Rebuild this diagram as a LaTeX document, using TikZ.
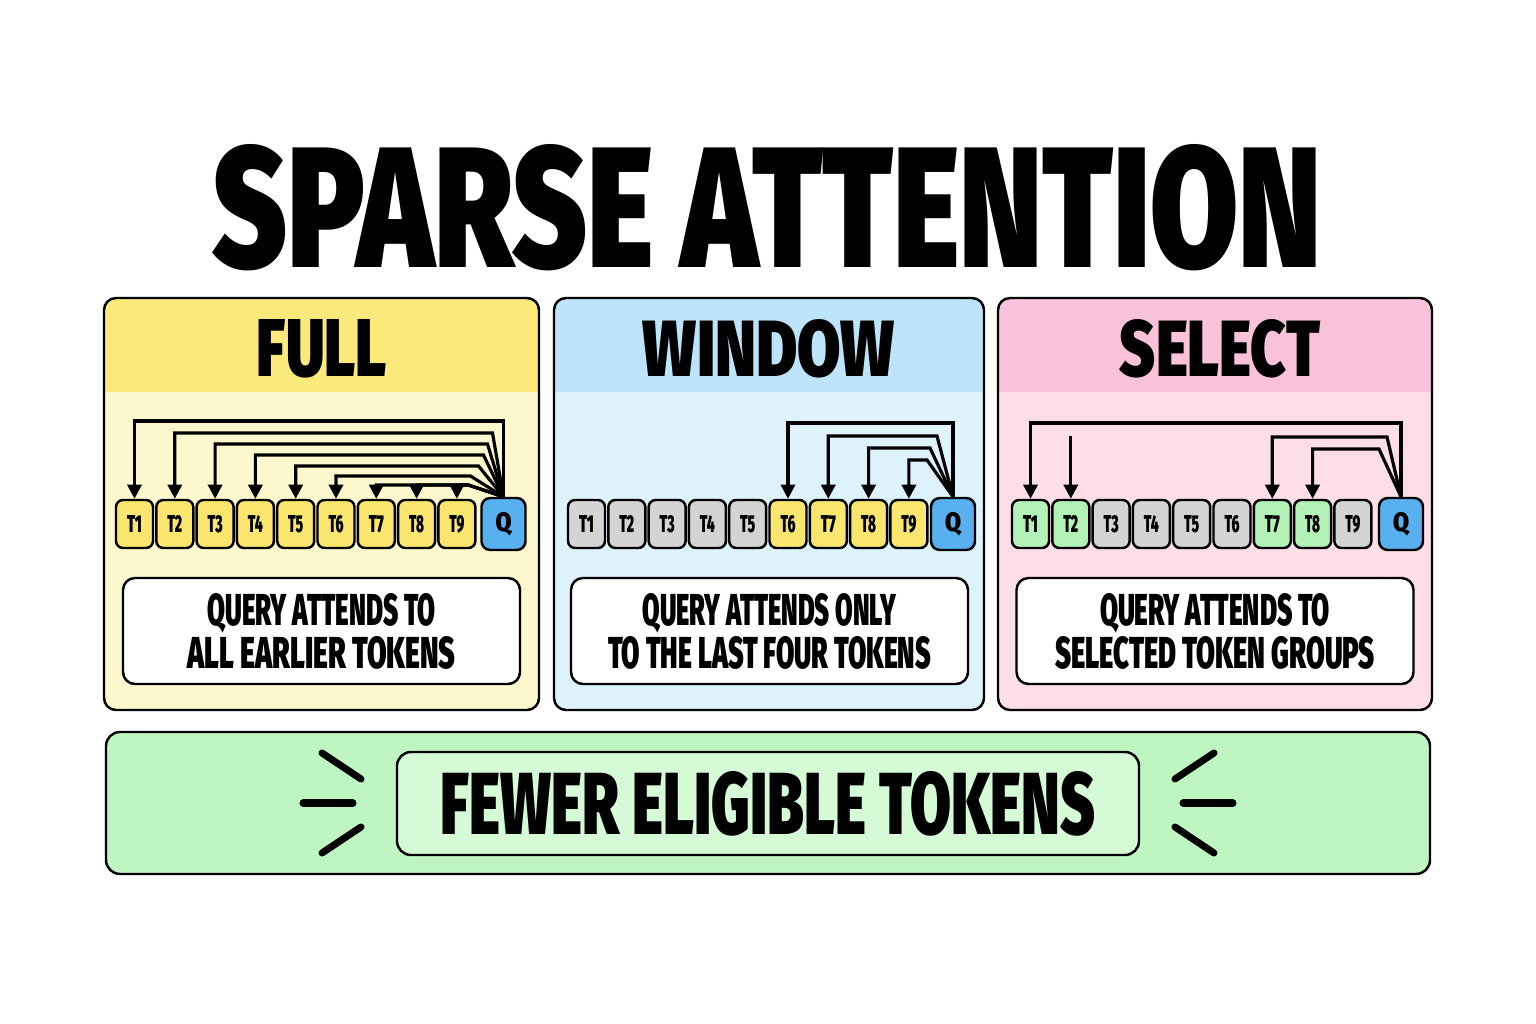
\documentclass[tikz,border=0pt]{standalone}
\usepackage{fontspec}
\setmainfont{Liberation Sans}
\IfFontExistsTF{Fira Sans Black}{\newfontfamily\heavy{Fira Sans Black}}{%
  \IfFontExistsTF{Fira Sans Heavy}{\newfontfamily\heavy{Fira Sans Heavy}}{%
    \IfFontExistsTF{Fira Sans ExtraBold}{\newfontfamily\heavy{Fira Sans ExtraBold}}{%
      \newfontfamily\heavy{Liberation Sans}[UprightFont=*, UprightFeatures={FakeBold=2}]}}}
\usepackage{graphicx}
\usetikzlibrary{arrows.meta,calc,positioning}
\definecolor{yell}{RGB}{250,230,110}
\definecolor{yellhead}{RGB}{251,234,123}
\definecolor{yellbody}{RGB}{253,247,205}
\definecolor{bluehead}{RGB}{189,228,250}
\definecolor{bluebody}{RGB}{222,242,252}
\definecolor{pinkhead}{RGB}{249,194,218}
\definecolor{pinkbody}{RGB}{252,221,232}
\definecolor{gray2}{RGB}{212,212,212}
\definecolor{qblue}{RGB}{89,176,238}
\definecolor{green2}{RGB}{178,242,182}
\definecolor{greenbar}{RGB}{191,245,192}
\definecolor{greenbox}{RGB}{213,250,214}
\newlength\pxu
\setlength\pxu{0.02cm}
%% text fitted to a width and a cap height, in pixels
\newcommand\fit[3]{\resizebox{#1\pxu}{#2\pxu}{\heavy #3}}
\tikzset{
  panel/.style={draw=black, line width=1.4pt, rounded corners=12\pxu},
  tok/.style={draw=black, line width=1.4pt, rounded corners=4pt, minimum width=37\pxu, minimum height=48\pxu, inner sep=0pt},
  qtok/.style={tok, fill=qblue, rounded corners=5pt, minimum width=44\pxu, minimum height=52\pxu},
  att/.style={draw=black, line width=1.8pt, -{Triangle[length=8pt,width=8pt]}},
  desc/.style={draw=black, fill=white, line width=1.4pt, rounded corners=12\pxu, minimum width=397\pxu, minimum height=106\pxu, align=center, inner sep=0pt, font=\fontsize{20}{24.5}\selectfont},
  ray/.style={line width=4pt, line cap=round}
}

\begin{document}
\begin{tikzpicture}[x=0.02cm,y=-0.02cm]
\useasboundingbox (0,0) rectangle (1536,1024);
\fill[white] (0,0) rectangle (1536,1024);

%% Title
\node (title) at (767,208) {\fit{1109}{123}{SPARSE ATTENTION}};

%% Panels
\foreach \xa/\xb/\hc/\bc in {104/539/yellhead/yellbody, 554/984/bluehead/bluebody, 998/1432/pinkhead/pinkbody}
{
\begin{scope}
\clip[rounded corners=12\pxu] (\xa,298) rectangle (\xb,710);
\fill[\bc] (\xa,298) rectangle (\xb,710);
\fill[\hc] (\xa,298) rectangle (\xb,392);
\end{scope}
\draw[panel] (\xa,298) rectangle (\xb,710);
}
\node (full) at (322,349) {\fit{130}{57}{FULL}};
\node (window) at (769,349) {\fit{252}{57}{WINDOW}};
\node (select) at (1220,349) {\fit{200}{57}{SELECT}};

%% Full
\foreach \i in {1,...,9}
{
\node[tok, fill=yell] (f\i) at ({134.5+(\i-1)*40.3},524) {\fit{15}{17}{T\i}};
}
\node[qtok] (fq) at (503.5,524) {\fit{16}{19}{Q}};
\foreach \i/\lv/\dx in {1/421/0,2/433/11,3/444/16,4/455/20,5/466/25,6/476/33,7/485/35,8/485/35,9/485/35}
{
\draw[att] (fq.north) -- ($(fq.north |- 0,\lv)+(-\dx,0)$) -- (f\i.north |- 0,\lv) -- (f\i.north);
}
\node[desc] (fdesc) at (321.5,631) {\fit{228}{32}{QUERY ATTENDS TO}\\\fit{268}{32}{ALL EARLIER TOKENS}};

%% Window
\foreach \i/\c in {1/gray2,2/gray2,3/gray2,4/gray2,5/gray2,6/yell,7/yell,8/yell,9/yell}
{
\node[tok, fill=\c] (w\i) at ({586.5+(\i-1)*40.3},524) {\fit{15}{17}{T\i}};
}
\node[qtok] (wq) at (953,524) {\fit{16}{19}{Q}};
\foreach \i/\lv/\dx in {6/423/0,7/436/16,8/448/23,9/460/26}
{
\draw[att] (wq.north) -- ($(wq.north |- 0,\lv)+(-\dx,0)$) -- (w\i.north |- 0,\lv) -- (w\i.north);
}
\node[desc] (wdesc) at (769.5,631) {\fit{254}{32}{QUERY ATTENDS ONLY}\\\fit{323}{32}{TO THE LAST FOUR TOKENS}};

%% Select
\foreach \i/\c in {1/green2,2/green2,3/gray2,4/gray2,5/gray2,6/gray2,7/green2,8/green2,9/gray2}
{
\node[tok, fill=\c] (s\i) at ({1030.5+(\i-1)*40.3},524) {\fit{15}{17}{T\i}};
}
\node[qtok] (sq) at (1401,524) {\fit{16}{19}{Q}};
\foreach \i/\lv/\dx in {1/423/0,7/437/14,8/449/22}
{
\draw[att] (sq.north) -- ($(sq.north |- 0,\lv)+(-\dx,0)$) -- (s\i.north |- 0,\lv) -- (s\i.north);
}
\coordinate (s2top) at (s2.north |- 0,436);
\draw[att] (s2top) -- (s2.north);
\node[desc] (sdesc) at (1215,631) {\fit{230}{32}{QUERY ATTENDS TO}\\\fit{320}{32}{SELECTED TOKEN GROUPS}};

%% Banner
\filldraw[panel, fill=greenbar, rounded corners=14\pxu] (106,732) rectangle (1430,874);
\node[draw=black, fill=greenbox, line width=1.4pt, rounded corners=14\pxu, minimum width=742\pxu, minimum height=103\pxu, inner sep=0pt] (fewer) at (768,803.5) {\fit{654}{63}{FEWER ELIGIBLE TOKENS}};
\draw[ray] (322,753) -- (361,779);
\draw[ray] (303,803) -- (353,803);
\draw[ray] (322,853) -- (361,827);
\draw[ray] (1214,753) -- (1175,779);
\draw[ray] (1183,803) -- (1233,803);
\draw[ray] (1214,853) -- (1175,827);
\end{tikzpicture}
\end{document}
